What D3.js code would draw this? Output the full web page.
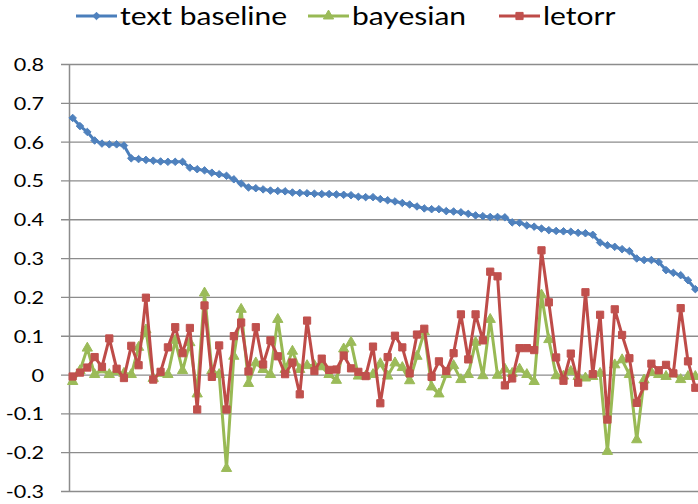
<!DOCTYPE html>
<html>
<head>
<meta charset="utf-8">
<script src="https://cdn.jsdelivr.net/npm/d3@7"></script>
<style>
  body { margin: 0; background: #ffffff; }
  svg { display: block; }
  text { font-family: Lato, "Open Sans", sans-serif; fill: #000; }
</style>
</head>
<body>
<svg id="chart" width="698" height="504"></svg>
<script>
// Series values, one per query (ranked by the text baseline score)
const textBaseline = [
  0.661, 0.640, 0.625, 0.603, 0.595, 0.593, 0.593, 0.590, 0.557, 0.555,
  0.553, 0.551, 0.549, 0.548, 0.548, 0.548, 0.533, 0.529, 0.526, 0.520,
  0.516, 0.512, 0.503, 0.492, 0.482, 0.480, 0.477, 0.474, 0.473, 0.472,
  0.469, 0.468, 0.467, 0.466, 0.465, 0.465, 0.464, 0.463, 0.462, 0.458,
  0.457, 0.457, 0.452, 0.449, 0.446, 0.442, 0.438, 0.433, 0.428, 0.426,
  0.426, 0.421, 0.420, 0.418, 0.414, 0.410, 0.408, 0.406, 0.406, 0.405,
  0.392, 0.391, 0.384, 0.381, 0.376, 0.372, 0.370, 0.369, 0.368, 0.365,
  0.364, 0.360, 0.340, 0.333, 0.329, 0.323, 0.318, 0.299, 0.295, 0.295,
  0.290, 0.269, 0.262, 0.256, 0.243, 0.220
];
const bayesian = [
  -0.018, 0.010, 0.068, 0.000, 0.012, 0.000, 0.008, 0.003, 0.000, 0.070,
  0.115, -0.010, 0.003, 0.000, 0.088, 0.010, 0.082, -0.050, 0.210, 0.010,
  0.000, -0.242, 0.047, 0.168, -0.023, 0.030, 0.013, 0.000, 0.142, 0.013,
  0.060, 0.013, 0.023, 0.023, 0.020, 0.000, -0.015, 0.066, 0.083, -0.004,
  -0.004, 0.000, 0.028, -0.004, 0.030, 0.018, -0.016, 0.047, 0.110, -0.032,
  -0.050, 0.000, 0.023, -0.013, 0.000, 0.083, -0.003, 0.142, -0.002, 0.014,
  0.003, 0.014, 0.000, -0.018, 0.205, 0.090, -0.003, -0.004, 0.008, -0.005,
  -0.009, -0.005, 0.003, -0.198, 0.025, 0.038, 0.000, -0.168, -0.014, 0.005,
  0.000, -0.005, 0.002, -0.013, -0.005, -0.005
];
const letorr = [
  -0.005, 0.005, 0.018, 0.045, 0.020, 0.093, 0.015, -0.009, 0.074, 0.024,
  0.198, -0.013, 0.007, 0.070, 0.122, 0.055, 0.120, -0.090, 0.178, -0.006,
  0.075, -0.090, 0.099, 0.134, 0.008, 0.122, 0.026, 0.088, 0.047, 0.001,
  0.031, -0.051, 0.139, 0.009, 0.041, 0.012, 0.013, 0.049, 0.016, 0.007,
  -0.004, 0.072, -0.074, 0.045, 0.100, 0.070, 0.003, 0.103, 0.118, -0.006,
  0.034, 0.009, 0.055, 0.155, 0.039, 0.155, 0.088, 0.265, 0.253, -0.028,
  -0.010, 0.068, 0.068, 0.063, 0.320, 0.186, 0.044, -0.016, 0.054, -0.021,
  0.212, 0.001, 0.154, -0.116, 0.168, 0.102, 0.042, -0.073, -0.030, 0.028,
  0.011, 0.025, 0.003, 0.171, 0.034, -0.034
];
const seriesNames = ["text baseline", "bayesian", "letorr"];
const yTicks = [0.8, 0.7, 0.6, 0.5, 0.4, 0.3, 0.2, 0.1, 0, -0.1, -0.2, -0.3];
const yTickLabels = ["0.8", "0.7", "0.6", "0.5", "0.4", "0.3", "0.2", "0.1", "0", "-0.1", "-0.2", "-0.3"];
const categories = textBaseline.map((_, i) => i + 1);

const W = 698, H = 504;
const plot = { left: 69, right: 699, top: 64, bottom: 491 };
const textStretch = 1.2;   // glyphs are drawn slightly wide

const svg = d3.select("#chart");

const x = d3.scalePoint().domain(categories).range([plot.left, plot.right]).padding(0.5);
const y = d3.scaleLinear().domain([-0.3, 0.8]).range([plot.bottom, plot.top]);

// Horizontal gridlines with short tick marks left of the axis
const grid = svg.append("g")
  .attr("transform", `translate(${plot.left},0)`)
  .call(d3.axisLeft(y).tickValues(yTicks).tickSizeInner(-(W - plot.left)).tickSizeOuter(0).tickFormat(""));
grid.select(".domain").remove();
grid.selectAll(".tick line").attr("stroke", "#8c8c8c").attr("stroke-width", 1.3)
  .attr("x1", -8);

// Vertical value axis
const yAxis = svg.append("g")
  .attr("transform", `translate(${plot.left},0)`)
  .call(d3.axisLeft(y).tickValues(yTicks).tickSize(0).tickPadding(0)
    .tickFormat((d, i) => yTickLabels[i]));
yAxis.select(".domain").attr("stroke", "#8c8c8c").attr("stroke-width", 1.5);
yAxis.selectAll(".tick text")
  .attr("font-family", "Lato, 'Open Sans', sans-serif")
  .attr("font-size", 18)
  .attr("fill", "#000")
  .attr("text-anchor", "end")
  .attr("x", -25 / textStretch)
  .attr("dy", "0.36em")
  .attr("transform", `scale(${textStretch},1)`);

// Series definitions
const series = [
  { name: seriesNames[0], values: textBaseline, line: "#4A7EBB", fill: "#4F81BD", symbol: d3.symbolDiamond2, size: 36 },
  { name: seriesNames[1], values: bayesian,     line: "#98B954", fill: "#9BBB59", symbol: d3.symbolTriangle, size: 46 },
  { name: seriesNames[2], values: letorr,       line: "#BE4B48", fill: "#C0504D", symbol: d3.symbolSquare,   size: 52 }
];

const line = d3.line()
  .x((d, i) => x(categories[i]))
  .y(d => y(d));

series.forEach(s => {
  const g = svg.append("g");
  g.append("path")
    .attr("d", line(s.values))
    .attr("fill", "none")
    .attr("stroke", s.line)
    .attr("stroke-width", 3)
    .attr("stroke-linejoin", "round")
    .attr("stroke-linecap", "round");
  g.selectAll("path.mark").data(s.values).join("path")
    .attr("class", "mark")
    .attr("d", d3.symbol().type(s.symbol).size(s.size))
    .attr("transform", (d, i) => `translate(${x(categories[i])},${y(d)})`)
    .attr("fill", s.fill)
    .attr("stroke", s.fill)
    .attr("stroke-width", 1);
});

// Legend across the top
const legendItems = [
  { x: 76,  textX: 120 },
  { x: 308, textX: 352 },
  { x: 499, textX: 543 }
];
const legend = svg.append("g");
series.forEach((s, i) => {
  const pos = legendItems[i];
  const lg = legend.append("g");
  lg.append("line")
    .attr("x1", pos.x).attr("x2", pos.x + 41)
    .attr("y1", 16).attr("y2", 16)
    .attr("stroke", s.line).attr("stroke-width", 3);
  lg.append("path")
    .attr("d", d3.symbol().type(s.symbol).size(s.size)())
    .attr("transform", `translate(${pos.x + 20.5},16)`)
    .attr("fill", s.fill).attr("stroke", s.fill);
  lg.append("text")
    .attr("transform", `translate(${pos.textX},25) scale(${textStretch},1)`)
    .attr("font-size", 25)
    .text(s.name);
});
</script>
</body>
</html>
